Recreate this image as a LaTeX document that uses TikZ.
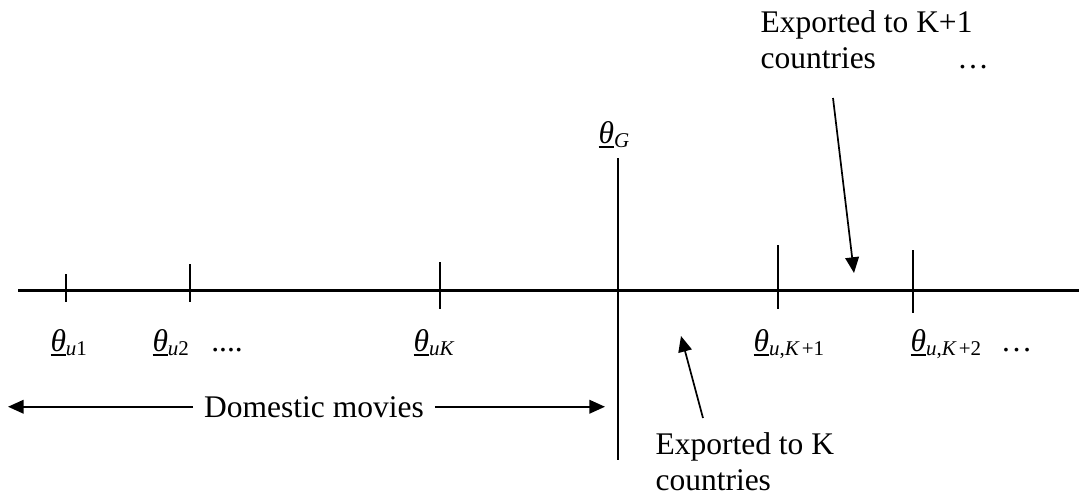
\documentclass[tikz,border=0pt]{standalone}
\usepackage{fontspec}
\setmainfont{Liberation Serif}
\usetikzlibrary{arrows.meta}
\tikzset{
  >={Triangle[length=6pt,width=5.2pt]},
  font=\fontsize{12}{13.7}\selectfont,
  axisline/.style={line width=1.15pt},
  tickmark/.style={line width=0.8pt},
  pointer/.style={->,line width=0.75pt},
  lbl/.style={inner sep=0pt,anchor=base west,align=left},
}
\newcommand{\lowth}[1]{\underline{\textit{θ}}\textsubscript{#1}}

\begin{document}
\begin{tikzpicture}[x=0.381pt,y=-0.381pt]
  \useasboundingbox (0,0) rectangle (1079,502);

  % ---- the theta axis ----
  \coordinate (axL) at (18,290);
  \coordinate (axR) at (1079,290);
  \draw[axisline] (axL) -- (axR);

  % cut-off ticks
  \foreach \x/\ya/\yb in {66/274/302,190/264/302,440/262/309,778/245/309,913/250/313}{
    \draw[tickmark] (\x,\ya) -- (\x,\yb);
  }
  % global cut-off, the long line
  \coordinate (gtop) at (618,158);
  \coordinate (gbot) at (618,460);
  \draw[tickmark] (gtop) -- (gbot);
  \node[lbl] (thG) at (598,143) {\lowth{\textit{G}}};

  % labels under the ticks
  \node[lbl] (thu1) at (50,351) {\lowth{\textit{u}1}};
  \node[lbl] (thu2) at (152,351) {\lowth{\textit{u}2}\hspace{8pt}....};
  \node[lbl] (thuK) at (413,351) {\lowth{\textit{uK}}};
  \node[lbl] (thuK1) at (753,351) {\lowth{\textit{u},\textit{K}\kern0.8pt+1}};
  \node[lbl] (thuK2) at (910,351) {\lowth{\textit{u},\textit{K}\kern0.8pt+2}\hspace{7pt}…};

  % ---- domestic range ----
  \node[inner sep=4pt,anchor=base] (dom) at (314,417) {Domestic movies};
  \coordinate (domL) at (8,409);
  \coordinate (domR) at (605,409);
  \draw[pointer] (dom.west) -- (dom.west -| domL);
  \draw[pointer] (dom.east) -- (dom.east -| domR);

  % ---- exported to K (base = last line) ----
  \node[lbl] (expK) at (655,490) {Exported to K\\countries};
  \coordinate (kfrom) at (703,418);
  \coordinate (kto) at (681,336);
  \draw[pointer,line width=0.65pt] (kfrom) -- (kto);

  % ---- exported to K+1 ----
  \node[lbl] (expKa) at (760,68) {Exported to K+1\\countries\hspace{31pt}…};
  \coordinate (kafrom) at (833,98);
  \coordinate (kato) at (854,273);
  \draw[pointer,line width=0.65pt] (kafrom) -- (kato);
\end{tikzpicture}
\end{document}
